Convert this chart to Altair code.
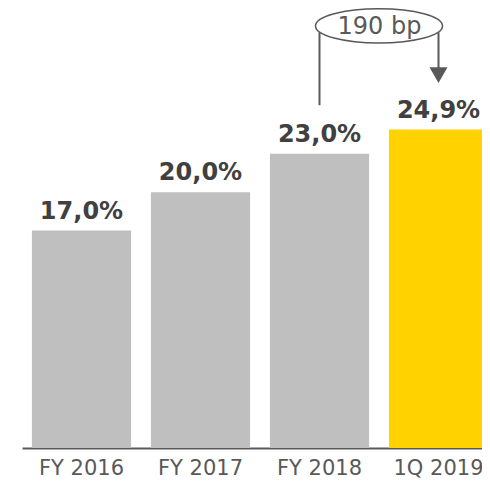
import altair as alt
import pandas as pd

categories = ["FY 2016", "FY 2017", "FY 2018", "1Q 2019"]
values = [17.0, 20.0, 23.0, 24.9]
labels = ["17,0%", "20,0%", "23,0%", "24,9%"]
bar_colors = ["#BFBFBF", "#BFBFBF", "#BFBFBF", "#FFD200"]

change_label = "190 bp"
from_cat = "FY 2018"
to_cat = "1Q 2019"
left_line = [26.8, 32.5]
right_line = [32.5, 29.6]
arrow_head = [29.15]
bubble_level = [33.0]

FONT = "DejaVu Sans"

df = pd.DataFrame({"cat": categories, "value": values, "label": labels, "color": bar_colors})

x = alt.X("cat:N", sort=categories,
          scale=alt.Scale(paddingInner=0.1667, paddingOuter=0.0833, range=[0, 476]),
          axis=alt.Axis(title=None, labelAngle=0, ticks=False, labelFont=FONT,
                        labelFontSize=21, labelColor="#595959", labelPadding=9,
                        domainColor="#595959", domainWidth=2, grid=False))
y = alt.Y("value:Q", scale=alt.Scale(domain=[0, 34.4], nice=False, zero=True), axis=None)

base = alt.Chart(df)
bars = base.mark_bar().encode(x=x, y=y, color=alt.Color("color:N", scale=None))
text = base.mark_text(baseline="alphabetic", dy=-12, font=FONT, fontSize=24,
                      fontWeight="bold", color="#404040").encode(x=x, y=y, text="label:N")

lines_df = pd.DataFrame({
    "cat": [from_cat, to_cat],
    "y1": [left_line[0], right_line[0]],
    "y2": [left_line[1], right_line[1]],
})
lines = alt.Chart(lines_df).mark_rule(color="#595959", strokeWidth=2).encode(
    x=alt.X("cat:N", sort=categories), y=alt.Y("y1:Q"), y2="y2:Q")

head_df = pd.DataFrame({"cat": [to_cat], "v": arrow_head})
head = alt.Chart(head_df).mark_point(shape="triangle-down", filled=True, size=324,
                                     color="#595959", opacity=1).encode(
    x=alt.X("cat:N", sort=categories), y=alt.Y("v:Q"))

# ellipse path centred half a band-step to the left of the 1Q 2019 bar
ell_path = "M -1.937 0 A 1 0.27 0 1 0 0.063 0 A 1 0.27 0 1 0 -1.937 0 Z"
bub_df = pd.DataFrame({"cat": [to_cat], "v": bubble_level, "t": [change_label]})
ellipse = alt.Chart(bub_df).mark_point(shape=ell_path, filled=False, size=127 * 127,
                                       stroke="#595959", strokeWidth=1.5, opacity=1).encode(
    x=alt.X("cat:N", sort=categories), y=alt.Y("v:Q"))
bub_text = alt.Chart(bub_df).mark_text(font=FONT, fontSize=24, color="#595959",
                                       baseline="middle", dx=-59, dy=1).encode(
    x=alt.X("cat:N", sort=categories), y=alt.Y("v:Q"), text="t:N")

chart = alt.layer(bars, text, lines, head, ellipse, bub_text).properties(
    width=460, height=440,
    autosize=alt.AutoSizeParams(type="none"),
    padding={"left": 14, "top": 0, "right": 0, "bottom": 30},
    background="white",
).configure_view(stroke=None)

chart.save("out.html", embed_options={"renderer": "svg", "actions": False})
